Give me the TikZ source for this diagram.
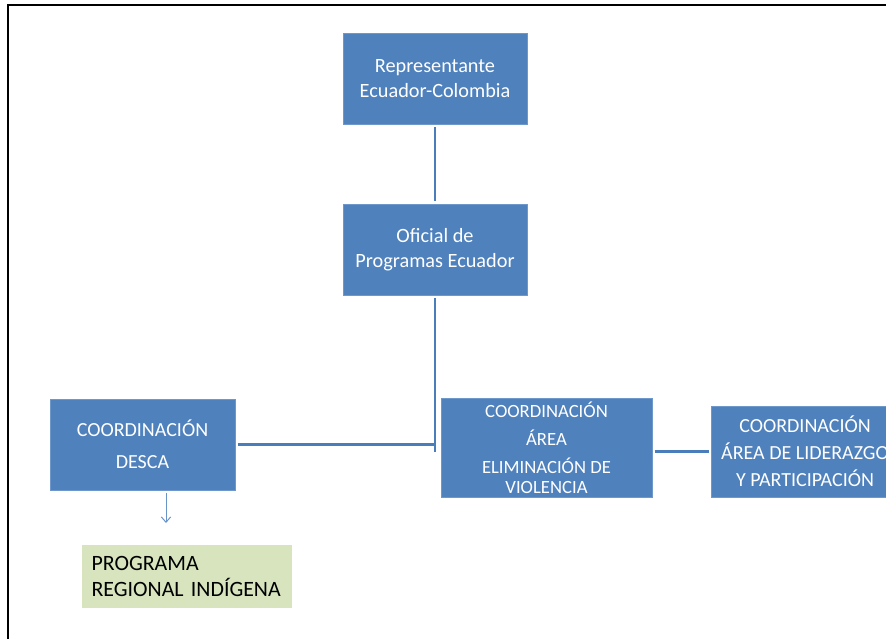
\documentclass[tikz,border=0pt]{standalone}
\usepackage{fontspec}
\setmainfont{Carlito}
\usetikzlibrary{arrows.meta,positioning,calc}
\definecolor{boxblue}{HTML}{4F81BD}
\definecolor{edgeblue}{HTML}{6E97CB}
\definecolor{linkblue}{HTML}{4A7EBB}
\definecolor{sage}{HTML}{D7E4BD}

\begin{document}
\begin{tikzpicture}[
  x=0.75pt,
  y=-0.75pt,
  line cap=butt,
  every node/.style={
    align=center,
  },
  box/.style={
    fill=boxblue,
    draw=edgeblue,
    line width=0.4pt,
    text=white,
    inner sep=2pt,
    outer sep=2pt,
  },
  headbox/.style={
    box,
    minimum width=138pt,
    minimum height=68.5pt,
    font=\fontsize{15.2}{18.75}\selectfont,
  },
  coordbox/.style={
    box,
    minimum width=138.75pt,
    minimum height=68.25pt,
    font=\fontsize{15}{24}\selectfont,
  },
  areabox/.style={
    box,
    minimum width=158.25pt,
    minimum height=74.25pt,
    font=\fontsize{14}{15}\selectfont,
  },
  progbox/.style={
    fill=sage,
    text=black,
    align=left,
    anchor=west,
    text width=143pt,
    inner xsep=7pt,
    minimum height=47.25pt,
    font=\fontsize{16.4}{20}\selectfont,
  },
  link/.style={
    linkblue,
    line width=2.2pt,
  },
  arr/.style={
    -{Straight Barb[length=4pt,width=7pt]},
    boxblue!85!white,
    line width=0.75pt,
  },
]
\useasboundingbox (0,0) rectangle (886,639);
\clip (0,0) rectangle (886,639);

% --- frame ---
\draw[black, line width=1.6pt] (8,639) -- (8,5) -- (886,5);

% --- nodes ---
\node[headbox] (rep) at (435,79) {Representante\\Ecuador-Colombia};
\node[headbox] (ofi) at (435,249.5) {Oficial de\\Programas Ecuador};
\node[coordbox] (desca) at (142.5,444.5) {COORDINACIÓN\\DESCA};
\node[areabox] (elim) at (546.5,447.5) {COORDINACIÓN\\[6pt]ÁREA\\[6pt]ELIMINACIÓN DE\\VIOLENCIA};
\node[headbox, minimum width=140pt, font=\fontsize{15}{20.25}\selectfont] (lider) at (805,451.5)
  {COORDINACIÓN\\ÁREA DE LIDERAZGO\\Y PARTICIPACIÓN};
\node[progbox] (prog) at (82,576.5) {PROGRAMA\\REGIONAL INDÍGENA};

% --- connectors ---
\coordinate (jn) at (435,452);
\coordinate (tip) at (166,523);
\draw[link] (rep.south) -- (ofi.north);
\draw[link] (ofi.south) -- (jn);
\draw[link] (desca.east) -- (desca.east -| jn);
\draw[link, line width=1.8pt] (lider.west -| elim.east) -- (lider.west);
\draw[arr] (desca.south -| tip) -- (tip);

\end{tikzpicture}
\end{document}
